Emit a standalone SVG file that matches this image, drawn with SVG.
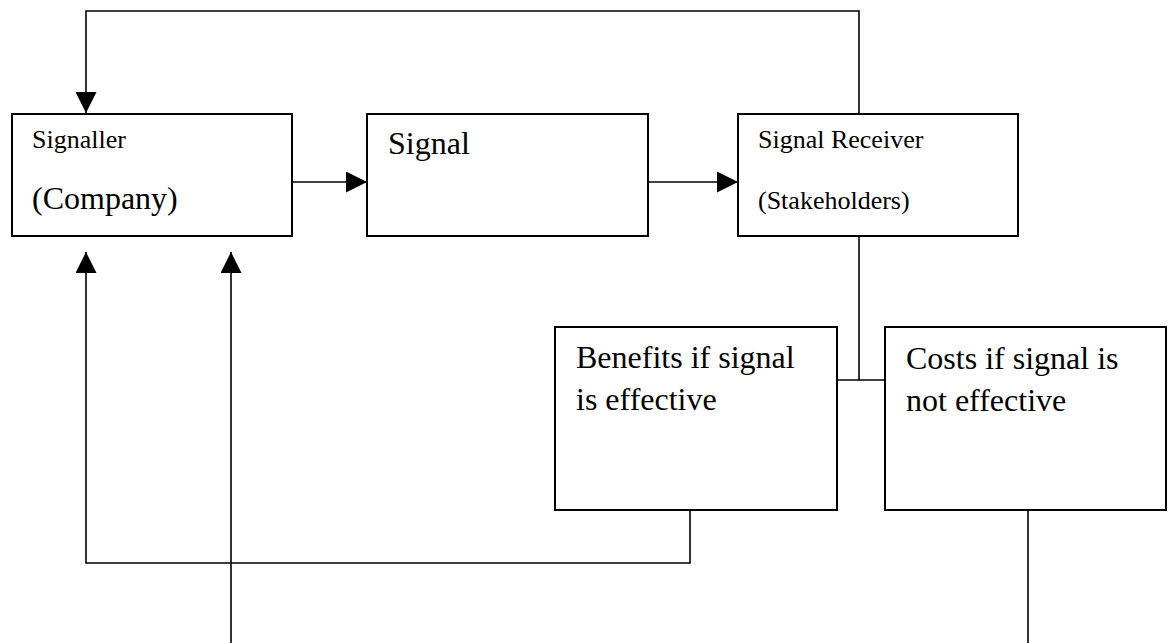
<svg xmlns="http://www.w3.org/2000/svg" width="1172" height="643" viewBox="0 0 1172 643">
  <style>
    .box { fill: #ffffff; stroke: #000000; stroke-width: 2; }
    .wire { fill: none; stroke: #000000; stroke-width: 1.6; }
    .lg { font-family: "Liberation Serif", "Times New Roman", serif; font-size: 32px; fill: #000000; }
    .sm { font-family: "Liberation Serif", "Times New Roman", serif; font-size: 26px; fill: #000000; }
  </style>
  <defs>
    <marker id="head" viewBox="0 0 21 21" refX="21" refY="10.5" markerWidth="21" markerHeight="21" markerUnits="userSpaceOnUse" orient="auto">
      <path d="M0,0 L21,10.5 L0,21 z" fill="#000000"/>
    </marker>
  </defs>
  <rect width="1172" height="643" fill="#ffffff"/>

  <g id="connectors">
    <!-- feedback loop over the top: receiver back to signaller -->
    <polyline class="wire" points="859,114 859,11 86,11 86,113" marker-end="url(#head)"/>
    <!-- signaller to signal -->
    <line class="wire" x1="292" y1="182" x2="367" y2="182" marker-end="url(#head)"/>
    <!-- signal to receiver -->
    <line class="wire" x1="648" y1="182" x2="738" y2="182" marker-end="url(#head)"/>
    <!-- receiver down to the outcome junction -->
    <line class="wire" x1="859" y1="236" x2="859" y2="380"/>
    <line class="wire" x1="837" y1="380" x2="885" y2="380"/>
    <!-- benefits back to signaller -->
    <polyline class="wire" points="690,510 690,563 86,563 86,252" marker-end="url(#head)"/>
    <!-- rising arrow from below -->
    <line class="wire" x1="231" y1="643" x2="231" y2="252" marker-end="url(#head)"/>
    <!-- costs running off below -->
    <line class="wire" x1="1028" y1="510" x2="1028" y2="643"/>
  </g>

  <g id="signaller">
    <rect class="box" x="12" y="114" width="280" height="122"/>
    <text class="sm" x="32" y="148">Signaller</text>
    <text class="lg" x="32" y="209">(Company)</text>
  </g>

  <g id="signal">
    <rect class="box" x="367" y="114" width="281" height="122"/>
    <text class="lg" x="388" y="154">Signal</text>
  </g>

  <g id="receiver">
    <rect class="box" x="738" y="114" width="280" height="122"/>
    <text class="sm" x="758" y="148">Signal Receiver</text>
    <text class="sm" x="758" y="209">(Stakeholders)</text>
  </g>

  <g id="benefits">
    <rect class="box" x="555" y="327" width="282" height="183"/>
    <text class="lg" x="576" y="368">Benefits if signal</text>
    <text class="lg" x="576" y="410">is effective</text>
  </g>

  <g id="costs">
    <rect class="box" x="885" y="327" width="281" height="183"/>
    <text class="lg" x="906" y="369">Costs if signal is</text>
    <text class="lg" x="906" y="411">not effective</text>
  </g>
</svg>
